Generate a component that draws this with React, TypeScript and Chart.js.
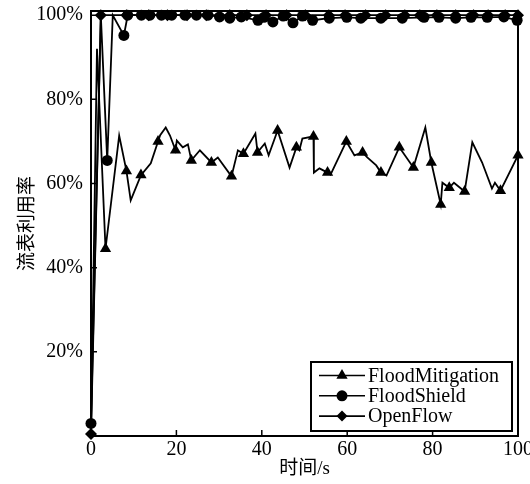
import React, { useEffect, useRef } from 'react';
import { Chart, registerables } from 'chart.js';

Chart.register(...registerables);

const FONT = '"Liberation Serif", "Times New Roman", "Noto Sans CJK SC", serif';

const xTickValues = [0, 20, 40, 60, 80, 100];
const yTickValues = [0, 20, 40, 60, 80, 100];

const seriesNames = ['FloodMitigation', 'FloodShield', 'OpenFlow'];

const mitigationX = [0, 1.4, 3.4, 6.6, 8.3, 9.3, 11.7, 14.0, 15.7, 16.2, 17.5, 18.5, 19.8, 20.1, 21.5, 22.7, 23.5, 25.5, 28.2, 29.7, 32.9, 34.4, 35.7, 38.5, 39.0, 40.7, 41.6, 43.7, 46.5, 48.1, 48.8, 49.5, 52.1, 52.2, 53.5, 55.4, 56.1, 59.8, 61.7, 63.6, 64.7, 66.8, 67.9, 69.2, 72.2, 75.5, 78.3, 79.7, 81.9, 82.3, 83.9, 85.0, 87.5, 89.3, 91.6, 93.9, 94.6, 95.9, 100];
const mitigationY = [0, 92, 44.5, 71.4, 63, 56, 62, 64.8, 70, 71.5, 73.3, 71.4, 67.9, 70.2, 68.6, 69.3, 65.5, 67.9, 65, 66.2, 61.7, 67.9, 67.1, 71.9, 67.4, 69.5, 66.7, 72.6, 63.8, 68.6, 67.9, 70.7, 71.2, 62.6, 63.6, 62.6, 62.1, 70, 66.7, 67.4, 66.2, 64.3, 62.6, 61.9, 68.6, 63.8, 73.3, 65, 55, 60.2, 59, 60.2, 58.1, 69.8, 65, 58.8, 60.2, 58.3, 66.7];
const mitigationMarkerX = [3.4, 8.3, 11.7, 15.7, 19.8, 23.5, 28.2, 32.9, 35.7, 39.0, 43.7, 48.1, 52.1, 55.4, 59.8, 63.6, 67.9, 72.2, 75.5, 79.7, 81.9, 83.9, 87.5, 95.9, 100];

const shieldX = [0, 2.3, 3.8, 5.1, 7.7, 8.6, 11.8, 13.8, 16.5, 18.9, 22.0, 24.7, 27.4, 30.1, 32.5, 35.2, 39.1, 40.5, 42.6, 45.0, 47.3, 49.5, 51.9, 55.8, 59.9, 63.2, 67.9, 72.9, 78.0, 81.5, 85.4, 89.0, 92.8, 96.7, 99.8];
const shieldY = [3, 100, 65.5, 100, 95.2, 100, 100, 100, 100, 100, 100, 100, 100, 99.6, 99.3, 99.6, 98.8, 99.5, 98.4, 99.8, 98.2, 99.8, 98.8, 99.3, 99.5, 99.3, 99.3, 99.3, 99.5, 99.5, 99.3, 99.5, 99.5, 99.6, 98.8];
const shieldUnmarkedX = [2.3, 5.1];

const openX = [0, 2.3, 8.3, 13.5, 17.9, 22.5, 27.0, 32.5, 36.5, 41.0, 45.8, 50.2, 55.7, 59.5, 64.3, 69.0, 73.5, 77.0, 81.0, 85.4, 89.6, 93.0, 97.0, 100];
const openY = [0.5, 100, 100, 100, 100, 100, 100, 100, 100, 100, 100, 100, 100, 100, 100, 100, 100, 100, 100, 100, 100, 100, 100, 100];

const toPoints = (xs: number[], ys: number[]) => xs.map((x, i) => ({ x, y: ys[i] }));

function drawMarker(ctx: CanvasRenderingContext2D, style: string, x: number, y: number, r: number) {
  ctx.beginPath();
  if (style === 'triangle') {
    ctx.moveTo(x, y - r);
    ctx.lineTo(x + r * 0.866, y + r * 0.5);
    ctx.lineTo(x - r * 0.866, y + r * 0.5);
    ctx.closePath();
  } else if (style === 'circle') {
    ctx.arc(x, y, r, 0, Math.PI * 2);
  } else {
    ctx.moveTo(x, y - r);
    ctx.lineTo(x + r, y);
    ctx.lineTo(x, y + r);
    ctx.lineTo(x - r, y);
    ctx.closePath();
  }
  ctx.fill();
}

const framePlugin = {
  id: 'frameAndLegend',
  afterDraw(chart: any) {
    const { ctx, chartArea: a, scales } = chart;
    ctx.save();
    ctx.strokeStyle = '#000';
    ctx.fillStyle = '#000';
    ctx.lineWidth = 2;
    ctx.strokeRect(a.left, a.top, a.right - a.left, a.bottom - a.top);
    ctx.lineWidth = 1.5;
    ctx.beginPath();
    for (const v of xTickValues) {
      const px = scales.x.getPixelForValue(v);
      ctx.moveTo(px, a.bottom);
      ctx.lineTo(px, a.bottom - 6);
    }
    for (const v of yTickValues) {
      const py = scales.y.getPixelForValue(v);
      ctx.moveTo(a.left, py);
      ctx.lineTo(a.left + 6, py);
    }
    ctx.stroke();

    // legend box
    const bw = 201;
    const bh = 69;
    const bx = a.right - 6 - bw;
    const by = a.bottom - 5 - bh;
    ctx.fillStyle = '#fff';
    ctx.fillRect(bx, by, bw, bh);
    ctx.lineWidth = 2;
    ctx.strokeRect(bx, by, bw, bh);
    ctx.fillStyle = '#000';
    ctx.font = '20px ' + FONT;
    ctx.textBaseline = 'middle';
    ctx.textAlign = 'left';
    chart.data.datasets.forEach((ds: any, i: number) => {
      const y = by + 13.5 + i * 20.3;
      ctx.lineWidth = 1.6;
      ctx.beginPath();
      ctx.moveTo(bx + 8, y);
      ctx.lineTo(bx + 54, y);
      ctx.stroke();
      drawMarker(ctx, ds.pointStyle, bx + 31, y, ds.pointStyle === 'triangle' ? 6.5 : 5.5);
      ctx.fillText(ds.label, bx + 57, y + 1);
    });
    ctx.restore();
  },
};

export default function App() {
  const ref = useRef<HTMLCanvasElement>(null);
  useEffect(() => {
    document.body.style.margin = '0';
    const mSet = new Set(mitigationMarkerX);
    const sSet = new Set(shieldUnmarkedX);
    const chart = new Chart(ref.current as HTMLCanvasElement, {
      type: 'line',
      data: {
        datasets: [
          {
            label: seriesNames[0],
            data: toPoints(mitigationX, mitigationY),
            borderColor: '#000',
            backgroundColor: '#000',
            borderWidth: 1.8,
            pointStyle: 'triangle',
            pointRadius: (c: any) => (mSet.has(mitigationX[c.dataIndex]) ? 6.5 : 0),
            pointBorderWidth: 0,
            tension: 0,
            clip: 8,
          },
          {
            label: seriesNames[1],
            data: toPoints(shieldX, shieldY),
            borderColor: '#000',
            backgroundColor: '#000',
            borderWidth: 1.8,
            pointStyle: 'circle',
            pointRadius: (c: any) => (sSet.has(shieldX[c.dataIndex]) ? 0 : 5.5),
            pointBorderWidth: 0,
            tension: 0,
            clip: 8,
          },
          {
            label: seriesNames[2],
            data: toPoints(openX, openY),
            borderColor: '#000',
            backgroundColor: '#000',
            borderWidth: 1.8,
            pointStyle: 'rectRot',
            pointRadius: 6,
            pointBorderWidth: 0,
            tension: 0,
            clip: 8,
          },
        ],
      } as any,
      options: {
        animation: false,
        responsive: false,
        layout: { padding: { left: 0, right: 12, top: 11, bottom: 0 } },
        plugins: { legend: { display: false }, tooltip: { enabled: false } },
        scales: {
          x: {
            type: 'linear',
            min: 0,
            max: 100,
            afterBuildTicks: (s: any) => {
              s.ticks = xTickValues.map((v) => ({ value: v }));
            },
            afterFit: (s: any) => {
              s.height = 48;
              s.paddingLeft = 0;
              s.paddingRight = 0;
            },
            grid: { display: false, drawTicks: false },
            border: { display: false },
            ticks: { color: '#000', font: { family: FONT, size: 20 }, padding: 2, maxRotation: 0 },
            title: {
              display: true,
              text: '时间/s',
              color: '#000',
              font: { family: FONT, size: 19 },
              padding: { top: 0, bottom: 4 },
            },
          },
          y: {
            type: 'linear',
            min: 0,
            max: 101,
            afterBuildTicks: (s: any) => {
              s.ticks = yTickValues.map((v) => ({ value: v }));
            },
            afterFit: (s: any) => {
              s.width = 91;
              s.paddingTop = 0;
              s.paddingBottom = 0;
            },
            grid: { display: false, drawTicks: false },
            border: { display: false },
            ticks: {
              color: '#000',
              font: { family: FONT, size: 20 },
              padding: 8,
              callback: (v: any) => (v === 0 ? '' : v + '%'),
            },
            title: {
              display: true,
              text: '流表利用率',
              color: '#000',
              font: { family: FONT, size: 19 },
              padding: { top: 17, bottom: 0 },
            },
          },
        },
      } as any,
      plugins: [framePlugin],
    });
    return () => chart.destroy();
  }, []);
  return (
    <div style={{ width: 530, height: 484, position: 'relative' }}>
      <canvas ref={ref} width={530} height={484} />
    </div>
  );
}
